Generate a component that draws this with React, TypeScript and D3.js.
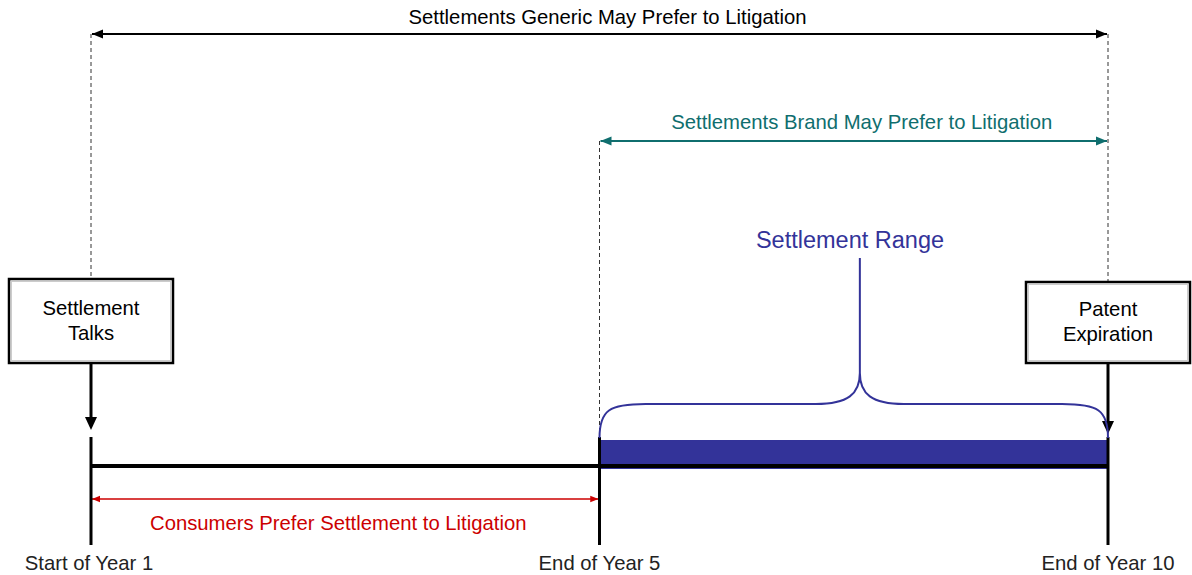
import React, { useRef, useEffect } from 'react';
import * as d3 from 'd3';

// timeline markers (in years)
const milestones = [
  { year: 0, label: 'Start of Year 1' },
  { year: 5, label: 'End of Year 5' },
  { year: 10, label: 'End of Year 10' },
];

// range arrows
const ranges = [
  { from: 0, to: 10, label: 'Settlements Generic May Prefer to Litigation', color: '#000000', key: 'generic' },
  { from: 5, to: 10, label: 'Settlements Brand May Prefer to Litigation', color: '#0f6e6e', key: 'brand' },
  { from: 0, to: 5, label: 'Consumers Prefer Settlement to Litigation', color: '#cc0000', key: 'consumer' },
];

const boxes = [
  { year: 0, lines: ['Settlement', 'Talks'] },
  { year: 10, lines: ['Patent', 'Expiration'] },
];

const settlementRange = { from: 5, to: 10, tip: 7.56, label: 'Settlement Range' };

const FONT = '"Liberation Sans", Arial, sans-serif';

const App = () => {
  const svgRef = useRef<SVGSVGElement>(null);

  useEffect(() => {
    const width = 1192;
    const height = 575;
    const svg = d3.select(svgRef.current)
      .attr('width', width)
      .attr('height', height);
    svg.selectAll('*').remove();

    const x = d3.scaleLinear().domain([0, 10]).range([91, 1108]);
    const axisY = 466;

    const defs = svg.append('defs');
    ranges.forEach(r => {
      defs.append('marker')
        .attr('id', `arr-${r.key}`)
        .attr('viewBox', '0 0 10 10')
        .attr('refX', 10)
        .attr('refY', 5)
        .attr('markerWidth', 5.5)
        .attr('markerHeight', 5.5)
        .attr('markerUnits', 'strokeWidth')
        .attr('orient', 'auto-start-reverse')
        .append('path')
        .attr('d', 'M0,1 L10,5 L0,9 Z')
        .attr('fill', r.color);
    });

    // dashed guide lines
    const dashes = [
      { year: 0, y1: 34, y2: 279 },
      { year: 10, y1: 34, y2: 282 },
      { year: 5, y1: 141, y2: 438 },
    ];
    svg.append('g').selectAll('line')
      .data(dashes)
      .enter()
      .append('line')
      .attr('x1', d => x(d.year))
      .attr('x2', d => x(d.year))
      .attr('y1', d => d.y1)
      .attr('y2', d => d.y2)
      .attr('stroke', '#333')
      .attr('stroke-width', 1)
      .attr('stroke-dasharray', '4,3');

    // range arrows
    const rangeY: Record<string, number> = { generic: 34, brand: 141, consumer: 499 };
    const labelY: Record<string, number> = { generic: 24, brand: 129, consumer: 530 };
    const labelDx: Record<string, number> = { generic: 8, brand: 8, consumer: -7 };
    ranges.forEach(r => {
      svg.append('line')
        .attr('x1', x(r.from) + 1)
        .attr('x2', x(r.to) - 1)
        .attr('y1', rangeY[r.key])
        .attr('y2', rangeY[r.key])
        .attr('stroke', r.color)
        .attr('stroke-width', r.key === 'consumer' ? 1.5 : 2)
        .attr('marker-start', `url(#arr-${r.key})`)
        .attr('marker-end', `url(#arr-${r.key})`);
      svg.append('text')
        .attr('x', (x(r.from) + x(r.to)) / 2 + labelDx[r.key])
        .attr('y', labelY[r.key])
        .attr('text-anchor', 'middle')
        .attr('font-family', FONT)
        .attr('font-size', 20.3)
        .attr('fill', r.color)
        .text(r.label);
    });

    // settlement range bar
    svg.append('rect')
      .attr('x', x(settlementRange.from))
      .attr('y', 440)
      .attr('width', x(settlementRange.to) - x(settlementRange.from))
      .attr('height', 29)
      .attr('fill', '#333399');

    // main timeline
    svg.append('line')
      .attr('x1', x(0))
      .attr('x2', x(10))
      .attr('y1', axisY)
      .attr('y2', axisY)
      .attr('stroke', '#000')
      .attr('stroke-width', 4);

    // vertical ticks
    svg.append('g').selectAll('line')
      .data(milestones)
      .enter()
      .append('line')
      .attr('x1', d => x(d.year))
      .attr('x2', d => x(d.year))
      .attr('y1', 437)
      .attr('y2', 545)
      .attr('stroke', '#000')
      .attr('stroke-width', 3);

    svg.append('g').selectAll('text')
      .data(milestones)
      .enter()
      .append('text')
      .attr('x', d => x(d.year) - (d.year === 0 ? 2 : 0))
      .attr('y', 570)
      .attr('text-anchor', 'middle')
      .attr('font-family', FONT)
      .attr('font-size', 20.3)
      .attr('fill', '#222')
      .text(d => d.label);

    // boxes with down arrows
    const boxW = 164;
    const boxTop: Record<number, number> = { 0: 279, 10: 282 };
    boxes.forEach(b => {
      const cx = x(b.year);
      const top = boxTop[b.year];
      const bx = b.year === 0 ? 9 : Math.min(cx - boxW / 2, 1190 - boxW);
      svg.append('rect')
        .attr('x', bx)
        .attr('y', top)
        .attr('width', boxW)
        .attr('height', 363 - top)
        .attr('fill', '#fff')
        .attr('stroke', '#000')
        .attr('stroke-width', 2.5);
      svg.append('rect')
        .attr('x', bx + 2.5)
        .attr('y', top + 2.5)
        .attr('width', boxW - 5)
        .attr('height', 363 - top - 5)
        .attr('fill', 'none')
        .attr('stroke', '#ccc')
        .attr('stroke-width', 1);
      b.lines.forEach((line, i) => {
        svg.append('text')
          .attr('x', bx + boxW / 2)
          .attr('y', (b.year === 0 ? 315 : 316) + i * 25)
          .attr('text-anchor', 'middle')
          .attr('font-family', FONT)
          .attr('font-size', 20.3)
          .attr('fill', '#000')
          .text(line);
      });
      const tip = b.year === 0 ? 430 : 434;
      svg.append('line')
        .attr('x1', cx)
        .attr('x2', cx)
        .attr('y1', 364)
        .attr('y2', tip - 6)
        .attr('stroke', '#000')
        .attr('stroke-width', 3);
      svg.append('path')
        .attr('d', `M${cx - 6},${tip - 13} L${cx + 6},${tip - 13} L${cx},${tip} Z`)
        .attr('fill', '#000');
    });

    // curly brace
    const x0 = x(settlementRange.from);
    const x1 = x(settlementRange.to);
    const xm = x(settlementRange.tip);
    const yb = 438;
    const yf = 404;
    const yc = 373;
    const r = 36;
    const brace = d3.path();
    brace.moveTo(x0, yb);
    brace.bezierCurveTo(x0, yf + 6, x0 + 10, yf, x0 + r + 10, yf);
    brace.lineTo(xm - r - 8, yf);
    brace.bezierCurveTo(xm - 12, yf, xm, yf - 10, xm, yc);
    brace.bezierCurveTo(xm, yf - 10, xm + 12, yf, xm + r + 8, yf);
    brace.lineTo(x1 - r - 10, yf);
    brace.bezierCurveTo(x1 - 10, yf, x1, yf + 6, x1, yb);
    brace.moveTo(xm, yc);
    brace.lineTo(xm, 258);
    svg.append('path')
      .attr('d', brace.toString())
      .attr('fill', 'none')
      .attr('stroke', '#333399')
      .attr('stroke-width', 2);

    svg.append('text')
      .attr('x', 850)
      .attr('y', 248)
      .attr('text-anchor', 'middle')
      .attr('font-family', FONT)
      .attr('font-size', 23.5)
      .attr('fill', '#333399')
      .text(settlementRange.label);
  }, []);

  return (
    <div style={{ position: 'absolute', left: 0, top: 0 }}>
      <svg ref={svgRef}></svg>
    </div>
  );
};

export default App;
